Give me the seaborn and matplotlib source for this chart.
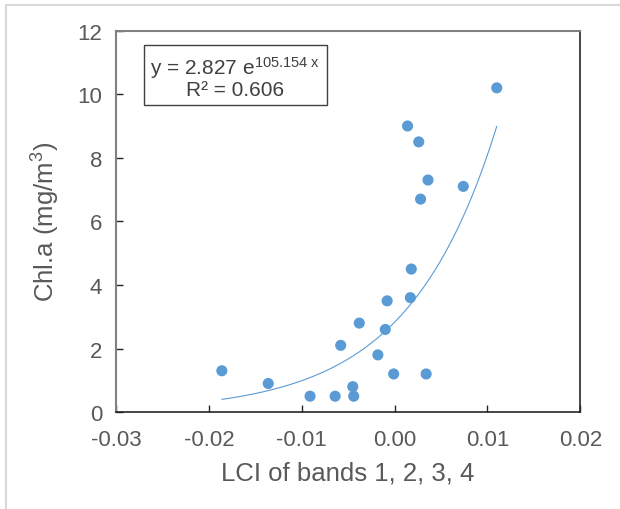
"""
Chl.a versus LCI of bands 1-4, with the exponential trend line.
"""

import numpy as np
import pandas as pd
import matplotlib
matplotlib.use('Agg')
import matplotlib.pyplot as plt
from matplotlib.lines import Line2D
import seaborn as sns

# data
lci = [-0.0186, -0.0136, -0.0091, -0.0064, -0.0045, -0.0044, -0.0058,
       -0.0038, -0.0018, -0.0010, -0.0008, -0.0001, 0.0017, 0.0018,
       0.0014, 0.0026, 0.0036, 0.0028, 0.0034, 0.0074, 0.0110]
chla = [1.3, 0.9, 0.5, 0.5, 0.8, 0.5, 2.1,
        2.8, 1.8, 2.6, 3.5, 1.2, 3.6, 4.5,
        9.0, 8.5, 7.3, 6.7, 1.2, 7.1, 10.2]

# exponential fit shown on the chart
fit_a = 2.827
fit_b = 105.154
fit_r2 = 0.606

x_ticks = [-0.03, -0.02, -0.01, 0.00, 0.01, 0.02]
y_ticks = [0, 2, 4, 6, 8, 10, 12]

blue = '#5b9bd5'
grey_text = '#595959'

sns.set_theme(style='white')
plt.rcParams['font.family'] = ['Liberation Sans', 'DejaVu Sans']
plt.rcParams['mathtext.fontset'] = 'custom'
plt.rcParams['mathtext.rm'] = 'Liberation Sans'
plt.rcParams['mathtext.it'] = 'Liberation Sans:italic'
plt.rcParams['axes.unicode_minus'] = False

df = pd.DataFrame({'LCI': lci, 'Chla': chla})
xs = np.linspace(min(lci), max(lci), 200)
trend = pd.DataFrame({'LCI': xs, 'Chla': fit_a * np.exp(fit_b * xs)})

fig = plt.figure(figsize=(6.2, 5.1), dpi=100)
ax = fig.add_axes([0.187, 0.190, 0.749, 0.748])

sns.lineplot(data=trend, x='LCI', y='Chla', ax=ax, color=blue, lw=0.8)
sns.scatterplot(data=df, x='LCI', y='Chla', ax=ax, color=blue, s=64,
                edgecolor='none', zorder=3)

ax.set_xlim(-0.03, 0.02)
ax.set_ylim(0, 12)
ax.set_xticks(x_ticks)
ax.set_xticklabels([f'{t:.2f}' for t in x_ticks])
ax.set_yticks(y_ticks)
ax.set_yticklabels([str(t) for t in y_ticks])
ax.tick_params(axis='both', direction='in', length=5, width=1,
               color='#262626', labelsize=16, labelcolor=grey_text)
ax.tick_params(axis='x', bottom=True, top=False, pad=12)
ax.tick_params(axis='y', left=True, right=False, pad=10)

for side in ['left', 'top']:
    ax.spines[side].set_color('#808080')
    ax.spines[side].set_linewidth(1.5)
for side in ['bottom', 'right']:
    ax.spines[side].set_color('#262626')
    ax.spines[side].set_linewidth(1.2)

ax.set_xlabel('LCI of bands 1, 2, 3, 4', fontsize=18.5, color=grey_text,
              labelpad=8)
ax.set_ylabel('Chl.a (mg/m$^{3}$)', fontsize=18.5, color=grey_text,
              labelpad=11)

ax.text(0.257, 0.88,
        f'y = {fit_a:.3f} e$^{{\\mathrm{{{fit_b:.3f}\\ x}}}}$\nR\u00b2 = {fit_r2:.3f}',
        transform=ax.transAxes, ha='center', va='center', fontsize=15,
        color='#404040', linespacing=1.0, multialignment='center',
        bbox=dict(boxstyle='square,pad=0.3', facecolor='white',
                  edgecolor='#404040', linewidth=1))

# light frame round the chart area
fig.add_artist(Line2D([6 / 620, 6 / 620], [0, 1 - 6 / 510],
                      transform=fig.transFigure, color='#d9d9d9', lw=1.5))
fig.add_artist(Line2D([6 / 620, 1], [1 - 6 / 510, 1 - 6 / 510],
                      transform=fig.transFigure, color='#d9d9d9', lw=1.5))

fig.savefig('out.png', dpi=100)
